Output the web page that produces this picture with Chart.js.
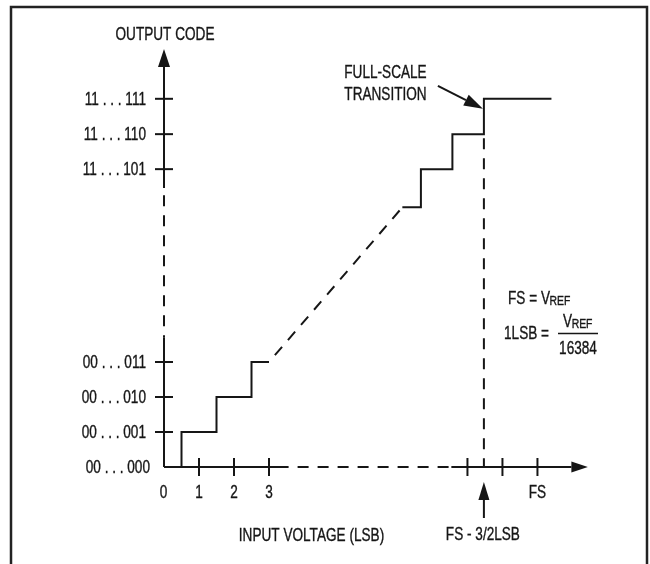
<!DOCTYPE html>
<html><head><meta charset="utf-8">
<script src="https://cdn.jsdelivr.net/npm/chart.js@4.4.1/dist/chart.umd.min.js"></script>
<style>html,body{margin:0;padding:0;background:#fff;} #wrap{width:650px;height:564px;position:relative;}</style>
</head><body><div id="wrap"><canvas id="c" width="650" height="564"></canvas></div>
<script>
// ---- data (units: LSB / output code) ----
const lowerStepX = [0, 0.5, 0.5, 1.5, 1.5, 2.5, 2.5, 3.0];
const lowerStepY = [0, 0, 1, 1, 2, 2, 3, 3];
const diagX = [3.0, 6.81];
const diagY = [3.0, 7.42];
const upperStepX = [6.81, 7.34, 7.34, 8.24, 8.24, 9.14, 9.14, 11.07];
const upperStepY = [7.42, 7.42, 8.51, 8.51, 9.51, 9.51, 10.52, 10.52];
const fsTransitionX = [9.14, 9.14];
const fsTransitionY = [9.51, 0];
const yAxisBreaks = [0, 3.71, 7.97, 11.43]; // solid | dashed | solid
const xAxisBreaks = [0, 3.56, 8.21, 11.64]; // solid | dashed | solid
const yArrowTip = 11.94;
const xArrowTip = 12.11;
const yTickValues = [1, 2, 3, 8.51, 9.51, 10.52];
const yTickLabels = ['00 . . . 001', '00 . . . 010', '00 . . . 011', '11 . . . 101', '11 . . . 110', '11 . . . 111'];
const yZeroLabel = '00 . . . 000';
const xTickValues = [1, 2, 3, 8.67, 9.67, 10.67];
const xTickLabels = ['1', '2', '3', '', '', 'FS'];
const xZeroLabel = '0';
const fsMarkX = 9.14;

const INK = '#161616';
const FONT = "'Liberation Sans', Arial, sans-serif";
const SX = 0.8, SY = 1.04;

function pts(xs, ys) { return xs.map((x, i) => ({ x: x, y: ys[i] })); }
function seg(a, b, axis) { return axis === 'y' ? [{ x: 0, y: a }, { x: 0, y: b }] : [{ x: a, y: 0 }, { x: b, y: 0 }]; }

const DASH = [11, 9];
function line(data, dashed, offset) {
  return { data: data, showLine: true, pointRadius: 0, borderColor: INK, borderWidth: 2,
    borderDash: dashed ? DASH : [], borderDashOffset: offset || 0, fill: false, tension: 0,
    borderCapStyle: 'butt', borderJoinStyle: 'miter' };
}

function txt(ctx, s, x, cy, align, size) {
  ctx.save();
  ctx.font = size + 'px ' + FONT;
  ctx.fillStyle = INK; ctx.strokeStyle = INK; ctx.lineWidth = 0.35;
  ctx.textBaseline = 'alphabetic';
  ctx.translate(x, cy + 0.358 * size * SY);
  ctx.scale(SX, SY);
  ctx.textAlign = align;
  ctx.fillText(s, 0, 0);
  ctx.strokeText(s, 0, 0);
  ctx.restore();
}
function tw(ctx, s, size) { ctx.save(); ctx.font = size + 'px ' + FONT; const w = ctx.measureText(s).width * SX; ctx.restore(); return w; }
function tri(ctx, a, b, c) { ctx.beginPath(); ctx.moveTo(a[0], a[1]); ctx.lineTo(b[0], b[1]); ctx.lineTo(c[0], c[1]); ctx.closePath(); ctx.fill(); }

const decor = {
  id: 'decor',
  beforeDraw(chart) {
    const ctx = chart.ctx; ctx.save(); ctx.fillStyle = '#fff'; ctx.fillRect(0, 0, chart.width, chart.height); ctx.restore();
  },
  afterDatasetsDraw(chart) {
    const ctx = chart.ctx, xs = chart.scales.x, ys = chart.scales.y;
    const px = v => xs.getPixelForValue(v), py = v => ys.getPixelForValue(v);
    const x0 = px(0), y0 = py(0);
    ctx.save();
    ctx.fillStyle = INK; ctx.strokeStyle = INK; ctx.lineWidth = 2;
    // frame
    ctx.save(); ctx.lineWidth = 2.5; ctx.strokeStyle = '#222';
    ctx.beginPath(); ctx.moveTo(11, 564); ctx.lineTo(11, 7); ctx.lineTo(647, 7); ctx.lineTo(647, 564); ctx.stroke(); ctx.restore();
    // y ticks
    yTickValues.forEach((v, i) => {
      const y = py(v);
      ctx.beginPath(); ctx.moveTo(x0 - 9, y); ctx.lineTo(x0 + 9, y); ctx.stroke();
      txt(ctx, yTickLabels[i], x0 - 18, y, 'right', 17);
    });
    txt(ctx, yZeroLabel, x0 - 14, y0, 'right', 17);
    // x ticks
    xTickValues.forEach((v, i) => {
      const x = px(v);
      ctx.beginPath(); ctx.moveTo(x, y0 - 9); ctx.lineTo(x, y0 + 9); ctx.stroke();
      if (xTickLabels[i]) txt(ctx, xTickLabels[i], x, y0 + 24.5, 'center', 17);
    });
    txt(ctx, xZeroLabel, x0 - 0.5, y0 + 24.5, 'center', 17);
    // axis arrowheads
    const yt = py(yArrowTip), yb = py(yAxisBreaks[3]);
    tri(ctx, [x0, yt], [x0 - 6, yb], [x0 + 6, yb]);
    const xt = px(xArrowTip), xb = px(xAxisBreaks[3]);
    tri(ctx, [xt, y0], [xb, y0 - 5.5], [xb, y0 + 5.5]);
    // FS - 3/2 LSB marker arrow
    const mx = px(fsMarkX);
    tri(ctx, [mx, y0 + 15], [mx - 5.5, y0 + 33], [mx + 5.5, y0 + 33]);
    ctx.beginPath(); ctx.moveTo(mx, y0 + 32); ctx.lineTo(mx, y0 + 51); ctx.stroke();
    // full-scale transition arrow
    const tipX = px(upperStepX[5]) - 1, tipY = py(upperStepY[6]) + 10;
    const sx0 = tipX - 45, sy0 = tipY - 23;
    const ang = Math.atan2(tipY - sy0, tipX - sx0), L = 19, W = 6;
    const bx = tipX - L * Math.cos(ang), by = tipY - L * Math.sin(ang);
    ctx.beginPath(); ctx.moveTo(sx0, sy0); ctx.lineTo(bx, by); ctx.stroke();
    tri(ctx, [tipX, tipY], [bx + W * Math.sin(ang), by - W * Math.cos(ang)], [bx - W * Math.sin(ang), by + W * Math.cos(ang)]);
    // texts
    txt(ctx, 'OUTPUT CODE', x0 + 1, 33.5, 'center', 17);
    txt(ctx, 'INPUT VOLTAGE (LSB)', 311.5, 535, 'center', 17);
    txt(ctx, 'FS - 3/2LSB', mx - 1, 533.5, 'center', 17);
    txt(ctx, 'FULL-SCALE', 385.5, 72, 'center', 17);
    txt(ctx, 'TRANSITION', 385.5, 93.5, 'center', 17);
    // FS = VREF
    let x = 508;
    txt(ctx, 'FS = V', x, 298, 'left', 17); x += tw(ctx, 'FS = V', 17);
    txt(ctx, 'REF', x - 0.5, 300.5, 'left', 13);
    // 1LSB = VREF / 16384
    txt(ctx, '1LSB = ', 504, 333, 'left', 17);
    const fx = 578;
    const wV = tw(ctx, 'V', 17), wR = tw(ctx, 'REF', 13);
    const vx = fx - (wV + wR) / 2;
    txt(ctx, 'V', vx, 321, 'left', 17);
    txt(ctx, 'REF', vx + wV - 0.5, 323.5, 'left', 13);
    ctx.save(); ctx.lineWidth = 1.3; ctx.beginPath(); ctx.moveTo(558, 333.5); ctx.lineTo(598, 333.5); ctx.stroke(); ctx.restore();
    txt(ctx, '16384', fx, 348, 'center', 17);
    ctx.restore();
  }
};

const W = 650, H = 564, UNIT = 35, ORIGX = 164, ORIGY = 467;
new Chart(document.getElementById('c'), {
  type: 'scatter',
  data: {
    datasets: [
      line(seg(yAxisBreaks[0], yAxisBreaks[1], 'y'), false),
      line(seg(yAxisBreaks[1], yAxisBreaks[2], 'y'), true, 9),
      line(seg(yAxisBreaks[2], yAxisBreaks[3], 'y'), false),
      line(seg(xAxisBreaks[0], xAxisBreaks[1], 'x'), false),
      line(seg(xAxisBreaks[1], xAxisBreaks[2], 'x'), true, 11),
      line(seg(xAxisBreaks[2], xAxisBreaks[3], 'x'), false),
      line(pts(lowerStepX, lowerStepY), false),
      line(pts(diagX, diagY), true, 11),
      line(pts(upperStepX, upperStepY), false),
      line(pts(fsTransitionX, fsTransitionY), true, 16)
    ]
  },
  options: {
    responsive: false, animation: false, events: [],
    layout: { padding: 0 },
    plugins: { legend: { display: false }, tooltip: { enabled: false } },
    scales: {
      x: { type: 'linear', display: false, min: -ORIGX / UNIT, max: (W - ORIGX) / UNIT },
      y: { type: 'linear', display: false, min: -(H - ORIGY) / UNIT, max: ORIGY / UNIT }
    }
  },
  plugins: [decor]
});
</script>
</body></html>
